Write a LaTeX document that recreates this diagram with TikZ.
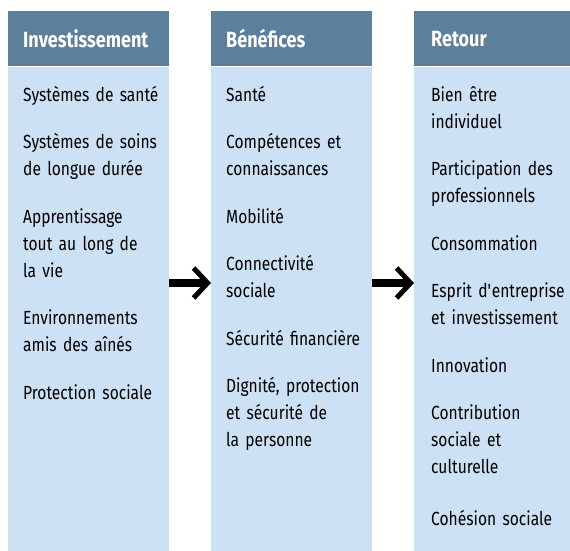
\documentclass[tikz,border=0pt]{standalone}
\usepackage{fontspec}
\setmainfont{Fira Sans}[FakeStretch=0.82]
\usetikzlibrary{positioning}
\usetikzlibrary{arrows.meta}

\definecolor{headblue}{RGB}{92,127,155}
\definecolor{bodyblue}{RGB}{204,225,244}
\newcommand{\itemfont}{\fontsize{19}{27}\selectfont}
\newcommand{\headfont}{\bfseries\fontsize{22}{27}\selectfont}

\begin{document}
\begin{tikzpicture}[x=1pt, y=-1pt, ->, >={Straight Barb[length=14pt, width=30pt, line width=5pt]},
    colhead/.style={rectangle, fill=headblue, text=white, font=\headfont, minimum height=55pt,
        inner xsep=15pt, inner ysep=0pt, align=left, anchor=north west},
    colbody/.style={rectangle, fill=bodyblue, minimum height=485pt, inner sep=0pt},
    entry/.style={font=\itemfont, text width=145pt, align=left, inner sep=0pt,
        execute at begin node=\leavevmode\strut, execute at end node=\strut}]
        \useasboundingbox (0,0) rectangle (570,551);

        % columns
        \node[colhead, text width=131pt] (invhead) at (8,11) {Investissement};
        \node[colhead, text width=131pt] (benhead) at (211,11) {Bénéfices};
        \node[colhead, inner xsep=17pt, text width=122pt] (rethead) at (414,11) {Retour};
        \node[colbody, minimum width=161pt, below=0pt of invhead] (invbody) {};
        \node[colbody, minimum width=161pt, below=0pt of benhead] (benbody) {};
        \node[colbody, minimum width=156pt, below=0pt of rethead] (retbody) {};

        % investissement
        \node[entry, below right=16pt and 15pt of invbody.north west] (inv1) {Systèmes de santé};
        \node[entry, below right=20pt and 0pt of inv1.south west] (inv2) {Systèmes de soins\\de longue durée};
        \node[entry, below right=20pt and 0pt of inv2.south west] (inv3) {Apprentissage\\tout au long de\\la vie};
        \node[entry, below right=20pt and 0pt of inv3.south west] (inv4) {Environnements\\amis des aînés};
        \node[entry, below right=20pt and 0pt of inv4.south west] (inv5) {Protection sociale};

        % benefices
        \node[entry, below right=16pt and 15pt of benbody.north west] (ben1) {Santé};
        \node[entry, below right=20pt and 0pt of ben1.south west] (ben2) {Compétences et\\connaissances};
        \node[entry, below right=20pt and 0pt of ben2.south west] (ben3) {Mobilité};
        \node[entry, below right=20pt and 0pt of ben3.south west] (ben4) {Connectivité\\sociale};
        \node[entry, below right=20pt and 0pt of ben4.south west] (ben5) {Sécurité financière};
        \node[entry, below right=20pt and 0pt of ben5.south west] (ben6) {Dignité, protection\\et sécurité de\\la personne};

        % retour
        \node[entry, below right=16pt and 17pt of retbody.north west] (ret1) {Bien être\\individuel};
        \node[entry, below right=20pt and 0pt of ret1.south west] (ret2) {Participation des\\professionnels};
        \node[entry, below right=20pt and 0pt of ret2.south west] (ret3) {Consommation};
        \node[entry, below right=20pt and 0pt of ret3.south west] (ret4) {Esprit d\textquotesingle entreprise\\et investissement};
        \node[entry, below right=20pt and 0pt of ret4.south west] (ret5) {Innovation};
        \node[entry, below right=20pt and 0pt of ret5.south west] (ret6) {Contribution\\sociale et\\culturelle};
        \node[entry, below right=25pt and 0pt of ret6.south west] (ret7) {Cohésion sociale};

        \coordinate (arrowrow) at (0,283);
        \draw[line width=8pt] (invbody.east |- arrowrow) -- (benbody.west |- arrowrow);
        \draw[line width=8pt] (benbody.east |- arrowrow) -- (retbody.west |- arrowrow);
    \end{tikzpicture}
\end{document}
